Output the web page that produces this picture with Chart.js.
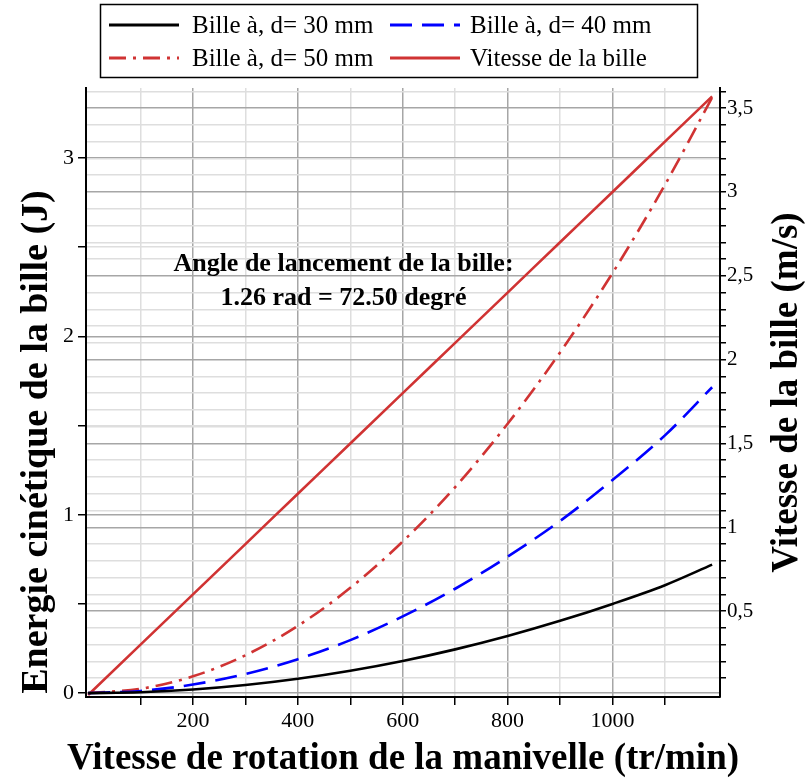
<!DOCTYPE html>
<html><head><meta charset="utf-8">
<script src="https://cdn.jsdelivr.net/npm/chart.js@4/dist/chart.umd.min.js"></script>
<style>html,body{margin:0;padding:0;background:#fff}#wrap{width:805px;height:778px;position:relative}</style>
</head><body><div id="wrap"><canvas id="c"></canvas></div>
<script>
// ---- data ----
const rpm = [0, 100, 200, 300, 400, 500, 600, 700, 800, 900, 1000, 1100, 1190];
const energy30 = [0, 0.005, 0.02, 0.045, 0.08, 0.125, 0.18, 0.245, 0.32, 0.405, 0.50, 0.605, 0.72];
const energy40 = [0, 0.012, 0.048, 0.107, 0.19, 0.297, 0.43, 0.585, 0.765, 0.965, 1.195, 1.445, 1.715];
const energy50 = [0, 0.024, 0.094, 0.212, 0.377, 0.59, 0.85, 1.155, 1.51, 1.91, 2.355, 2.85, 3.34];
const speed = [0, 0.3, 0.6, 0.9, 1.2, 1.5, 1.8, 2.1, 2.4, 2.7, 3.0, 3.3, 3.57];
const seriesLabels = ['Bille à, d= 30 mm', 'Bille à, d= 40 mm', 'Bille à, d= 50 mm', 'Vitesse de la bille'];

const xTicks = [100, 200, 300, 400, 500, 600, 700, 800, 900, 1000, 1100];
const xTickLabels = ['200', '400', '600', '800', '1000'];
const leftTicks = [0, 0.5, 1, 1.5, 2, 2.5, 3];
const leftTickLabels = ['0', '1', '2', '3'];
const rightTicks = [0.1,0.2,0.3,0.4,0.5,0.6,0.7,0.8,0.9,1.0,1.1,1.2,1.3,1.4,1.5,1.6,1.7,1.8,1.9,2.0,2.1,2.2,2.3,2.4,2.5,2.6,2.7,2.8,2.9,3.0,3.1,3.2,3.3,3.4,3.5,3.6];
const rightTickLabels = ['0,5', '1', '1,5', '2', '2,5', '3', '3,5'];

const xTitle = 'Vitesse de rotation de la manivelle (tr/min)';
const leftTitle = 'Energie cinétique de la bille (J)';
const rightTitle = 'Vitesse de la bille (m/s)';
const annotationLines = ['Angle de lancement de la bille:', '1.26 rad = 72.50 degré'];
const annotationPos = {x: 487, y: [2.405, 2.215]};

// ---- chart ----
const SERIF = '"Liberation Serif", "Times New Roman", serif';
const pts = (ys) => rpm.map((x, i) => ({x: x, y: ys[i]}));
function labelFor(list, v) {
  const s = String(v).replace('.', ',');
  return list.includes(s) ? s : '';
}
const setTicks = (vals) => (scale) => { scale.ticks = vals.map(v => ({value: v})); };
const MAJOR = '#a6a6a6', MINOR = '#dedede';

const legendBox = {
  id: 'legendBox',
  afterDraw(chart) {
    const ctx = chart.ctx;
    ctx.save();
    ctx.strokeStyle = '#000';
    ctx.lineWidth = 1.5;
    ctx.strokeRect(100.5, 4.5, 597, 73);
    const pos = [[109, 25], [390, 25], [109, 58], [390, 58]];
    chart.data.datasets.forEach((ds, i) => {
      const [x, y] = pos[i];
      ctx.beginPath();
      ctx.setLineDash(ds.borderDash || []);
      ctx.strokeStyle = ds.borderColor;
      ctx.lineWidth = 3;
      ctx.moveTo(x, y); ctx.lineTo(x + 70, y);
      ctx.stroke();
      ctx.setLineDash([]);
      ctx.fillStyle = '#000';
      ctx.font = '25px ' + SERIF;
      ctx.textBaseline = 'middle';
      ctx.textAlign = 'left';
      ctx.fillText(ds.label, x + (i % 2 ? 80 : 83), y + 1);
    });
    ctx.restore();
  }
};

const texts = {
  id: 'texts',
  afterDraw(chart) {
    const ctx = chart.ctx, xs = chart.scales.x, ys = chart.scales.y, a = chart.chartArea;
    ctx.save();
    ctx.fillStyle = '#000';
    ctx.textAlign = 'center';
    ctx.textBaseline = 'middle';
    // annotation inside plot
    ctx.font = 'bold 26px ' + SERIF;
    annotationLines.forEach((t, i) => {
      ctx.fillText(t, xs.getPixelForValue(annotationPos.x), ys.getPixelForValue(annotationPos.y[i]));
    });
    // axis titles
    ctx.font = 'bold 37px ' + SERIF;
    ctx.fillText(xTitle, (a.left + a.right) / 2, 759);
    ctx.save();
    ctx.translate(37, 442);
    ctx.rotate(-Math.PI / 2);
    ctx.font = 'bold 38px ' + SERIF;
    ctx.fillText(leftTitle, 0, 0);
    ctx.restore();
    ctx.save();
    ctx.translate(787, (a.top + a.bottom) / 2);
    ctx.rotate(-Math.PI / 2);
    ctx.fillText(rightTitle, 0, 0);
    ctx.restore();
    ctx.restore();
  }
};

new Chart(document.getElementById('c'), {
  type: 'line',
  data: {
    datasets: [
      {label: seriesLabels[0], data: pts(energy30), borderColor: '#000000', borderWidth: 2.6, yAxisID: 'y'},
      {label: seriesLabels[1], data: pts(energy40), borderColor: '#0000ff', borderWidth: 2.6, borderDash: [22, 10], yAxisID: 'y'},
      {label: seriesLabels[2], data: pts(energy50), borderColor: '#d03333', borderWidth: 2.6, borderDash: [17, 7, 3, 7], yAxisID: 'y'},
      {label: seriesLabels[3], data: pts(speed), borderColor: '#d03333', borderWidth: 2.6, yAxisID: 'y1'}
    ]
  },
  options: {
    responsive: true,
    maintainAspectRatio: false,
    animation: false,
    devicePixelRatio: 1,
    layout: {padding: {top: 88, left: 0, right: 0, bottom: 0}},
    elements: {point: {radius: 0}, line: {cubicInterpolationMode: 'monotone', fill: false}},
    plugins: {legend: {display: false}, tooltip: {enabled: false}},
    scales: {
      x: {
        type: 'linear', min: -4, max: 1205,
        afterBuildTicks: setTicks(xTicks),
        afterFit: (s) => { s.height = 81; },
        border: {color: '#000', width: 2},
        grid: {
          color: (c) => (c.tick && c.tick.value % 200 === 0) ? MAJOR : MINOR,
          lineWidth: 1.5,
          tickColor: '#000', tickLength: 8, tickWidth: 1.5
        },
        ticks: {
          color: '#000', font: {family: SERIF, size: 22}, padding: 3, maxRotation: 0, autoSkip: false,
          callback: (v) => labelFor(xTickLabels, v)
        },
        title: {display: false}
      },
      y: {
        type: 'linear', position: 'left', min: -0.022, max: 3.393,
        afterBuildTicks: setTicks(leftTicks),
        afterFit: (s) => { s.width = 86; },
        border: {color: '#000', width: 2},
        grid: {
          color: (c) => (c.tick && c.tick.value % 1 === 0) ? MAJOR : MINOR,
          lineWidth: 1.5,
          tickColor: '#000', tickLength: 8, tickWidth: 1.5
        },
        ticks: {
          color: '#000', font: {family: SERIF, size: 22}, padding: 4, autoSkip: false,
          callback: (v) => labelFor(leftTickLabels, v)
        },
        title: {display: false}
      },
      y1: {
        type: 'linear', position: 'right', min: -0.012, max: 3.62,
        afterBuildTicks: setTicks(rightTicks),
        afterFit: (s) => { s.width = 85; },
        border: {color: '#000', width: 2},
        grid: {
          color: (c) => (c.tick && Math.abs(c.tick.value * 2 - Math.round(c.tick.value * 2)) < 1e-6) ? MAJOR : MINOR,
          lineWidth: 1.5,
          tickColor: '#000', tickLength: 6, tickWidth: 1.5
        },
        ticks: {
          color: '#000', font: {family: SERIF, size: 21}, padding: 1, autoSkip: false,
          callback: (v) => labelFor(rightTickLabels, Math.round(v * 10) / 10)
        },
        title: {display: false}
      }
    }
  },
  plugins: [legendBox, texts]
});
</script>
</body></html>
